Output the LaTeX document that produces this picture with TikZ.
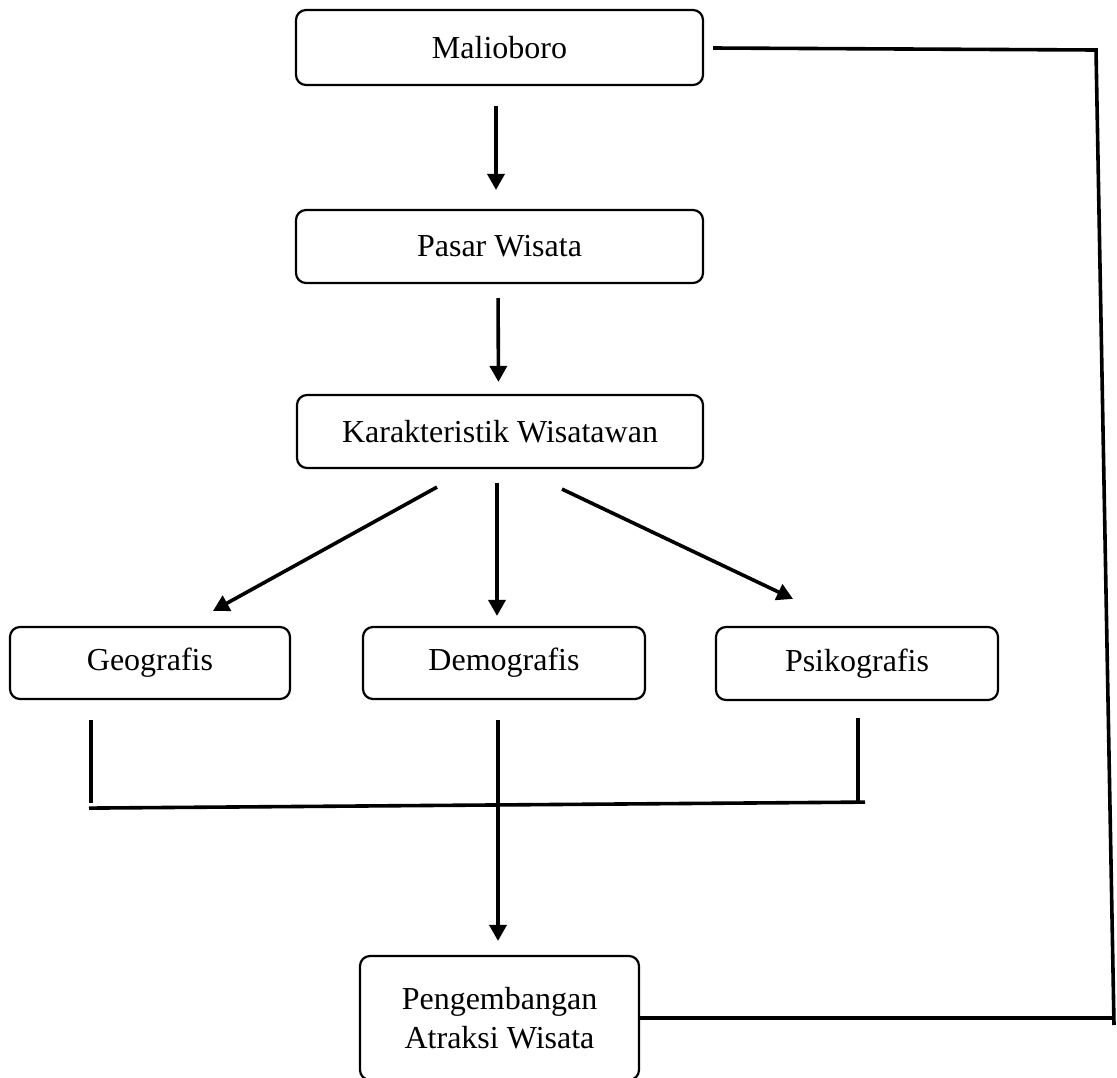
\documentclass[tikz,border=0pt]{standalone}
\usepackage{fontspec}
\setmainfont{Liberation Serif}
\usetikzlibrary{arrows.meta,calc}
\begin{document}
\begin{tikzpicture}[x=1pt,y=-1pt,
  box/.style={draw, line width=2.2pt, rounded corners=10pt, font=\fontsize{32}{39}\selectfont, align=center, inner sep=0pt},
  conn/.style={line width=3.6pt},
  arr/.style={conn, -{Triangle[length=16pt,width=17pt]}}]
\useasboundingbox (0,0) rectangle (1117,1077);

\node[box, minimum width=407pt, minimum height=75pt] (m) at (499.5,47.5) {Malioboro};
\node[box, minimum width=407pt, minimum height=73pt] (p) at (499.5,246.5) {Pasar Wisata};
\node[box, minimum width=406pt, minimum height=73pt] (k) at (500,431.5) {Karakteristik Wisatawan};
\node[box, minimum width=280pt, minimum height=72pt] (g) at (150,663) {Geografis};
\node[box, minimum width=282pt, minimum height=72pt] (d) at (504,663) {Demografis};
\node[box, minimum width=282pt, minimum height=73pt] (s) at (857,663.5) {Psikografis};
\node[box, minimum width=279pt, minimum height=124pt] (pa) at (499.5,1018) {Pengembangan\\Atraksi Wisata};

% vertical arrows
\draw[arr, shorten <=20pt, shorten >=19pt] ([xshift=-3.5pt]m.south) -- ([xshift=-3.5pt]p.north);
\draw[arr, shorten <=14pt, shorten >=12pt] ([xshift=-1.5pt]p.south) -- ([xshift=-1.5pt]k.north);

% branches from Karakteristik
\coordinate (ld1) at ($(k.south)+(-63,18)$);
\coordinate (ld2) at ($(g.north)+(63,-15)$);
\coordinate (md1) at ($(k.south)+(-3,14)$);
\coordinate (md2) at ($(d.north)+(-7,-10)$);
\coordinate (rd1) at ($(k.south)+(62,20)$);
\coordinate (rd2) at ($(s.north)+(-64,-27)$);
\draw[arr] (ld1) -- (ld2);
\draw[arr] (md1) -- (md2);
\draw[arr] (rd1) -- (rd2);

% bracket joining the three
\coordinate (gl1) at ($(g.south)+(-59,20)$);
\coordinate (gl2) at ($(g.south)+(-59,103)$);
\coordinate (sl1) at ($(s.south)+(1,17)$);
\coordinate (sl2) at ($(s.south)+(1,101)$);
\coordinate (hb1) at ($(g.south)+(-61,108)$);
\coordinate (hb2) at ($(s.south)+(8,101)$);
\draw[conn] (gl1) -- (gl2);
\draw[conn] (sl1) -- (sl2);
\draw[conn] (hb1) -- (hb2);

% down to Pengembangan
\coordinate (dl1) at ($(d.south)+(-6,20)$);
\draw[arr, shorten >=14pt] (dl1) -- (dl1 |- pa.north);

% feedback loop on the right
\coordinate (ml) at ($(m.east)+(9,0.5)$);
\coordinate (tr) at (1096,50);
\coordinate (br) at (1114,1025);
\draw[conn] (ml) -- (tr) -- (br);
\draw[conn] (pa.east) -- (br |- pa.east);
\end{tikzpicture}
\end{document}
